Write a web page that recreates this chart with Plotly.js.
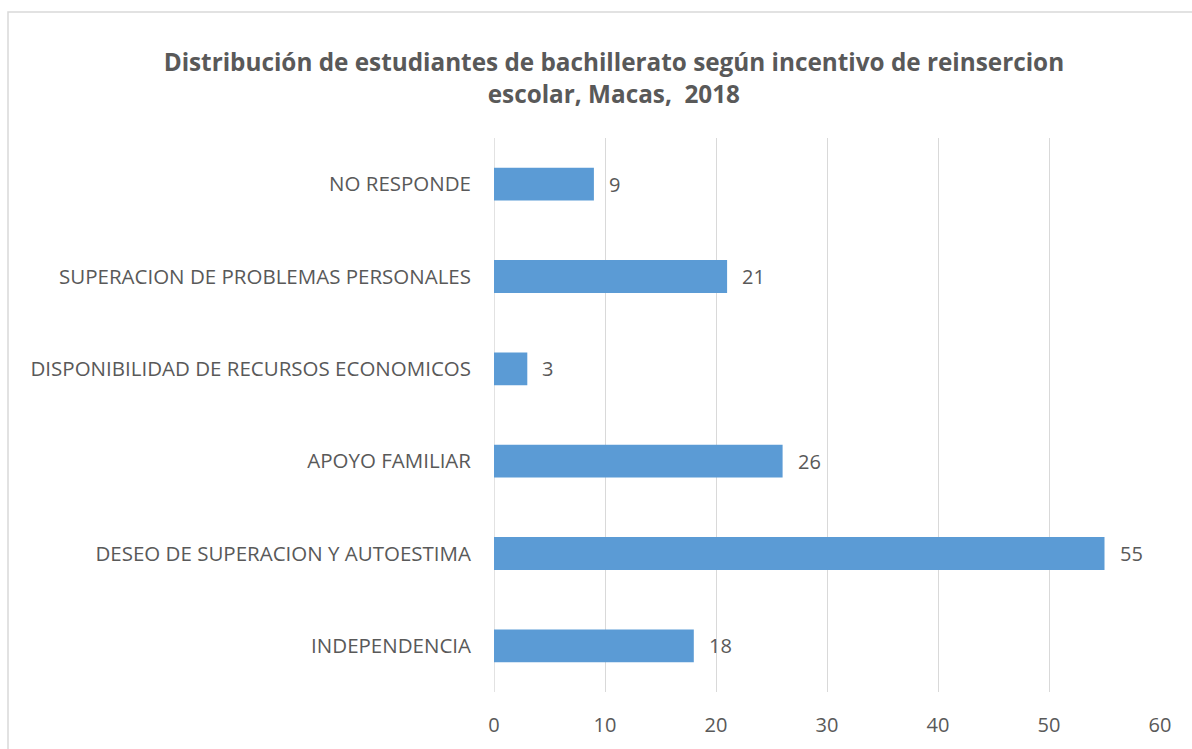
<!DOCTYPE html>
<html>
<head>
<meta charset="utf-8">
<script src="https://cdn.plot.ly/plotly-3.0.1.min.js"></script>
<style>html,body{margin:0;padding:0;background:#fff;}#chart{width:1192px;height:749px;}</style>
</head>
<body>
<div id="chart"></div>
<script>
const categories = ["INDEPENDENCIA", "DESEO DE SUPERACION Y AUTOESTIMA", "APOYO FAMILIAR", "DISPONIBILIDAD DE RECURSOS ECONOMICOS", "SUPERACION DE PROBLEMAS PERSONALES", "NO RESPONDE"];
const values = [18, 55, 26, 3, 21, 9];
const xTicks = [0, 10, 20, 30, 40, 50, 60];
const titleText = "Distribución de estudiantes de bachillerato según incentivo de reinsercion<br>escolar, Macas,&nbsp; 2018";

const fontFam = "'Open Sans', sans-serif";
const grey = "#595959";

const trace = {
  type: "bar",
  orientation: "h",
  x: values,
  y: categories,
  width: 0.355,
  marker: {color: "#5b9bd5", line: {width: 0}},
  hoverinfo: "x+y"
};

const annotations = values.map((v, i) => ({
  x: v, y: categories[i], xref: "x", yref: "y",
  text: String(v), showarrow: false, xanchor: "left", xshift: 13,
  font: {family: fontFam, size: 20, color: grey}
}));

const layout = {
  width: 1192, height: 749,
  margin: {l: 494, r: 32, t: 138, b: 57},
  paper_bgcolor: "#ffffff", plot_bgcolor: "#ffffff",
  showlegend: false,
  title: {
    text: titleText, x: 0.515, xanchor: "center", y: 0.905, yanchor: "top",
    font: {family: fontFam, size: 24.3, color: grey, weight: "bold"}
  },
  xaxis: {
    range: [0, 60], tickvals: xTicks, ticktext: xTicks.map(String),
    showgrid: true, gridcolor: "#d9d9d9", gridwidth: 1,
    zeroline: false, showline: false, ticks: "",
    tickfont: {family: fontFam, size: 20, color: grey},
    ticklabelstandoff: 19, fixedrange: true
  },
  yaxis: {
    type: "category", categoryorder: "array", categoryarray: categories,
    range: [-0.5, 5.5],
    showgrid: false, zeroline: false, showline: false, ticks: "",
    tickfont: {family: fontFam, size: 20.5, color: grey},
    ticklabelstandoff: 22, fixedrange: true
  },
  shapes: [
    {type: "rect", xref: "paper", yref: "paper",
     x0: (8 - 494) / 666, x1: (1200 - 494) / 666,
     y0: (692 - 780) / 554, y1: (692 - 12) / 554,
     line: {color: "#d9d9d9", width: 1.5}, fillcolor: "rgba(0,0,0,0)", layer: "below"},
    {type: "line", xref: "x", yref: "paper", x0: 0, x1: 0, y0: 0, y1: 1,
     line: {color: "#d9d9d9", width: 1.5}, layer: "below"}
  ],
  annotations: annotations
};

Plotly.newPlot("chart", [trace], layout, {displayModeBar: false, staticPlot: true});
</script>
</body>
</html>
